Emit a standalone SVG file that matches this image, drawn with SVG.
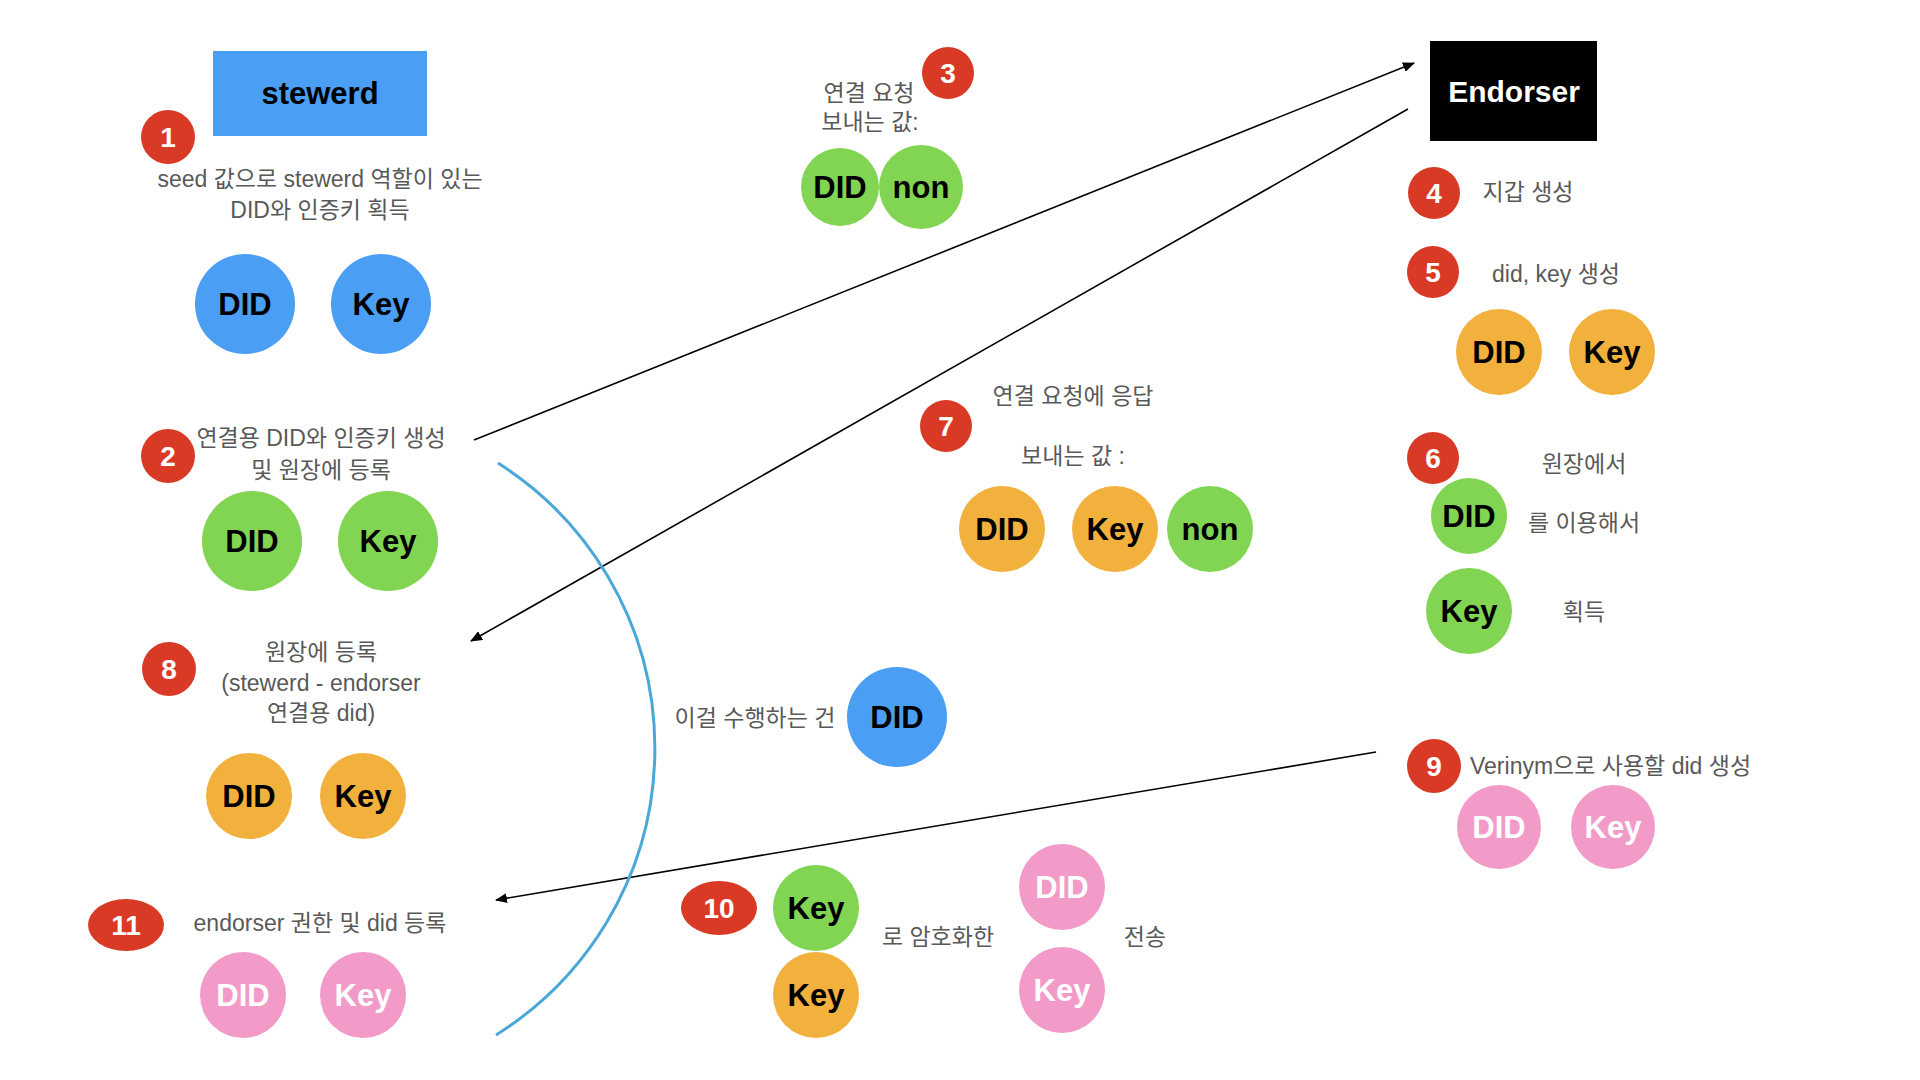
<svg xmlns="http://www.w3.org/2000/svg" width="1920" height="1080" viewBox="0 0 1920 1080">
<defs>
<style>
text{font-family:"Liberation Sans","Noto Sans CJK KR",sans-serif}
.lbl{font-size:23px;fill:#595959;text-anchor:middle}
.lbll{font-size:23px;fill:#595959}
.ctext{font-size:31px;font-weight:bold;text-anchor:middle;fill:#000}
.wtext{font-size:31px;font-weight:bold;text-anchor:middle;fill:#fff}
.num{font-size:28px;font-weight:bold;text-anchor:middle;fill:#fff}
.badge{fill:#d93a26}
.blue{fill:#4a9ff5}
.green{fill:#82d552}
.orange{fill:#f2b03c}
.pink{fill:#f29ac8}
.conn{stroke:#000;stroke-width:1.6;fill:none;marker-end:url(#arr)}
</style>
<marker id="arr" viewBox="0 0 12 10" refX="11" refY="5" markerWidth="12" markerHeight="10" markerUnits="userSpaceOnUse" orient="auto">
<path d="M0,0 L12,5 L0,10 z" fill="#000"/>
</marker>
</defs>
<rect width="1920" height="1080" fill="#fff"/>

<g id="connectors">
<line class="conn" x1="474" y1="440" x2="1414" y2="63"/>
<line class="conn" x1="1408" y1="109" x2="471" y2="641"/>
<line class="conn" x1="1376" y1="752" x2="496" y2="900"/>
<path id="arc" d="M498,463 A338,338 0 0 1 496,1035" fill="none" stroke="#4aa8d8" stroke-width="3"/>
</g>

<g id="steward">
<rect x="213" y="51" width="214" height="85" fill="#4a9ff5"/>
<text x="320" y="104" font-size="31" font-weight="bold" text-anchor="middle" fill="#000">stewerd</text>
</g>

<g id="step1">
<circle class="badge" cx="168" cy="137" r="27"/>
<text class="num" x="168" y="147">1</text>
<text class="lbl" x="320" y="187">seed 값으로 stewerd 역할이 있는</text>
<text class="lbl" x="320" y="218">DID와 인증키 획득</text>
<circle class="blue" cx="245" cy="304" r="50"/>
<text class="ctext" x="245" y="315">DID</text>
<circle class="blue" cx="381" cy="304" r="50"/>
<text class="ctext" x="381" y="315">Key</text>
</g>

<g id="step2">
<circle class="badge" cx="168" cy="456" r="27"/>
<text class="num" x="168" y="466">2</text>
<text class="lbl" x="321" y="446">연결용 DID와 인증키 생성</text>
<text class="lbl" x="321" y="478">및 원장에 등록</text>
<circle class="green" cx="252" cy="541" r="50"/>
<text class="ctext" x="252" y="552">DID</text>
<circle class="green" cx="388" cy="541" r="50"/>
<text class="ctext" x="388" y="552">Key</text>
</g>

<g id="step8">
<circle class="badge" cx="169" cy="669" r="27"/>
<text class="num" x="169" y="679">8</text>
<text class="lbl" x="321" y="660">원장에 등록</text>
<text class="lbl" x="321" y="691">(stewerd - endorser</text>
<text class="lbl" x="321" y="721">연결용 did)</text>
<circle class="orange" cx="249" cy="796" r="43"/>
<text class="ctext" x="249" y="807">DID</text>
<circle class="orange" cx="363" cy="796" r="43"/>
<text class="ctext" x="363" y="807">Key</text>
</g>

<g id="step11">
<ellipse class="badge" cx="126" cy="925" rx="38" ry="26"/>
<text class="num" x="126" y="935">11</text>
<text class="lbl" x="320" y="931">endorser 권한 및 did 등록</text>
<circle class="pink" cx="243" cy="995" r="43"/>
<text class="wtext" x="243" y="1006">DID</text>
<circle class="pink" cx="363" cy="995" r="43"/>
<text class="wtext" x="363" y="1006">Key</text>
</g>

<g id="step3">
<circle class="badge" cx="948" cy="73" r="26"/>
<text class="num" x="948" y="83">3</text>
<text class="lbl" x="869" y="101">연결 요청</text>
<text class="lbl" x="870" y="130">보내는 값:</text>
<circle class="green" cx="840" cy="187" r="39"/>
<text class="ctext" x="840" y="198">DID</text>
<circle class="green" cx="921" cy="187" r="42"/>
<text class="ctext" x="921" y="198">non</text>
</g>

<g id="endorser">
<rect x="1430" y="41" width="167" height="100" fill="#000"/>
<text x="1514" y="102" font-size="30" font-weight="bold" text-anchor="middle" fill="#fff">Endorser</text>
</g>

<g id="step4">
<circle class="badge" cx="1434" cy="193" r="26"/>
<text class="num" x="1434" y="203">4</text>
<text class="lbl" x="1528" y="200">지갑 생성</text>
</g>

<g id="step5">
<circle class="badge" cx="1433" cy="272" r="26"/>
<text class="num" x="1433" y="282">5</text>
<text class="lbl" x="1556" y="282">did, key 생성</text>
<circle class="orange" cx="1499" cy="352" r="43"/>
<text class="ctext" x="1499" y="363">DID</text>
<circle class="orange" cx="1612" cy="352" r="43"/>
<text class="ctext" x="1612" y="363">Key</text>
</g>

<g id="step6">
<circle class="badge" cx="1433" cy="458" r="26"/>
<text class="num" x="1433" y="468">6</text>
<text class="lbl" x="1584" y="472">원장에서</text>
<circle class="green" cx="1469" cy="516" r="38"/>
<text class="ctext" x="1469" y="527">DID</text>
<text class="lbl" x="1584" y="531">를 이용해서</text>
<circle class="green" cx="1469" cy="611" r="43"/>
<text class="ctext" x="1469" y="622">Key</text>
<text class="lbl" x="1584" y="620">획득</text>
</g>

<g id="step7">
<circle class="badge" cx="946" cy="426" r="26"/>
<text class="num" x="946" y="436">7</text>
<text class="lbl" x="1073" y="404">연결 요청에 응답</text>
<text class="lbl" x="1073" y="464">보내는 값 :</text>
<circle class="orange" cx="1002" cy="529" r="43"/>
<text class="ctext" x="1002" y="540">DID</text>
<circle class="orange" cx="1115" cy="529" r="43"/>
<text class="ctext" x="1115" y="540">Key</text>
<circle class="green" cx="1210" cy="529" r="43"/>
<text class="ctext" x="1210" y="540">non</text>
</g>

<g id="performer">
<text class="lbl" x="755" y="726">이걸 수행하는 건</text>
<circle class="blue" cx="897" cy="717" r="50"/>
<text class="ctext" x="897" y="728">DID</text>
</g>

<g id="step9">
<circle class="badge" cx="1434" cy="766" r="27"/>
<text class="num" x="1434" y="776">9</text>
<text class="lbll" x="1470" y="774">Verinym으로 사용할 did 생성</text>
<circle class="pink" cx="1499" cy="827" r="42"/>
<text class="wtext" x="1499" y="838">DID</text>
<circle class="pink" cx="1613" cy="827" r="42"/>
<text class="wtext" x="1613" y="838">Key</text>
</g>

<g id="step10">
<ellipse class="badge" cx="719" cy="908" rx="38" ry="27"/>
<text class="num" x="719" y="918">10</text>
<circle class="green" cx="816" cy="908" r="43"/>
<text class="ctext" x="816" y="919">Key</text>
<circle class="orange" cx="816" cy="995" r="43"/>
<text class="ctext" x="816" y="1006">Key</text>
<text class="lbl" x="938" y="945">로 암호화한</text>
<circle class="pink" cx="1062" cy="887" r="43"/>
<text class="wtext" x="1062" y="898">DID</text>
<circle class="pink" cx="1062" cy="990" r="43"/>
<text class="wtext" x="1062" y="1001">Key</text>
<text class="lbl" x="1145" y="945">전송</text>
</g>
</svg>
